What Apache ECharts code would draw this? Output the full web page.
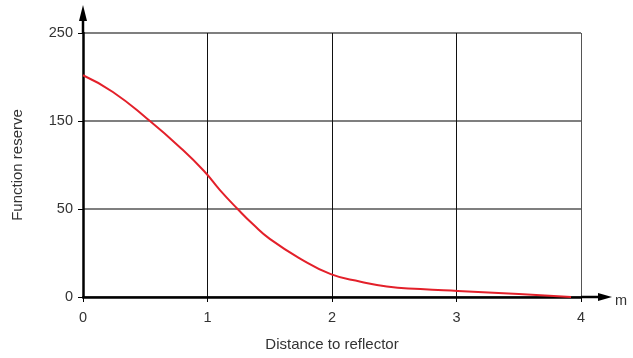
<!DOCTYPE html>
<html>
<head>
<meta charset="utf-8">
<script src="https://cdn.jsdelivr.net/npm/echarts@6/dist/echarts.min.js"></script>
<style>html,body{margin:0;padding:0;background:#fff;}#c{width:633px;height:358px;}</style>
</head>
<body>
<div id="c"></div>
<script>
// Data
const distances = [0, 0.24, 0.52, 0.78, 0.97, 1.10, 1.24, 1.37, 1.50, 1.74, 1.99, 2.23, 2.44, 2.71, 3.01, 3.5, 3.92];
const reserve   = [202, 183, 152, 120, 93.5, 71.5, 50.3, 41, 33, 22, 13, 8.7, 5.9, 4.5, 3.4, 1.7, 0];
const yTickValues = [0, 50, 150, 250];   // equally spaced labels on the reference axis
const xTickLabels = ['0', '1', '2', '3', '4'];

// piecewise-linear scale: tick values sit at equal axis steps
function toAxis(v) {
  for (let i = 0; i < yTickValues.length - 1; i++) {
    const a = yTickValues[i], b = yTickValues[i + 1];
    if (v <= b || i === yTickValues.length - 2) return i + (v - a) / (b - a);
  }
}
const seriesData = distances.map((d, i) => [d, toAxis(reserve[i])]);

const font = 'Liberation Sans, Arial, sans-serif';
const txt = '#333';
const chart = echarts.init(document.getElementById('c'));
chart.setOption({
  animation: false,
  grid: { left: 83, right: 52, top: 33, bottom: 61 },
  xAxis: {
    type: 'value', min: 0, max: 4, interval: 1,
    name: 'Distance to reflector', nameLocation: 'middle', nameGap: 40,
    nameTextStyle: { color: txt, fontSize: 15, fontFamily: font },
    axisLine: { show: true, onZero: false, lineStyle: { color: '#000', width: 2.5 } },
    axisTick: { show: true, length: 5, lineStyle: { color: '#000', width: 1 } },
    axisLabel: { color: txt, fontSize: 14.5, fontFamily: font, margin: 13,
      formatter: v => xTickLabels[Math.round(v)] },
    splitLine: { show: true, lineStyle: { color: ['#111', '#111', '#111', '#111', '#555'], width: 1 } }
  },
  yAxis: {
    type: 'value', min: 0, max: 3, interval: 1,
    name: 'Function reserve', nameLocation: 'middle', nameGap: 58, nameRotate: 90,
    nameTextStyle: { color: txt, fontSize: 15, fontFamily: font },
    axisLine: { show: true, onZero: false, lineStyle: { color: '#000', width: 2.5 } },
    axisTick: { show: true, length: 5, lineStyle: { color: '#000', width: 1 } },
    axisLabel: { color: txt, fontSize: 14.5, fontFamily: font, margin: 10,
      formatter: v => String(yTickValues[Math.round(v)]) },
    splitLine: { show: true, lineStyle: { color: '#555', width: 1.5 } }
  },
  series: [{
    type: 'line', data: seriesData, smooth: 0.5, showSymbol: false,
    lineStyle: { color: '#e3202a', width: 2 }, z: 5
  }]
});

// axis arrows and unit label
const o = chart.convertToPixel({ gridIndex: 0 }, [0, 0]);
const xe = chart.convertToPixel({ gridIndex: 0 }, [4, 3]);
const xTip = xe[0] + 31, yTip = xe[1] - 28;
chart.setOption({
  graphic: [
    { type: 'line', shape: { x1: xe[0], y1: o[1], x2: xTip - 8, y2: o[1] }, style: { stroke: '#000', lineWidth: 2.5 }, z: 10 },
    { type: 'polygon', shape: { points: [[xTip, o[1]], [xTip - 14, o[1] - 4], [xTip - 14, o[1] + 4]] }, style: { fill: '#000' }, z: 10 },
    { type: 'line', shape: { x1: o[0], y1: xe[1], x2: o[0], y2: yTip + 8 }, style: { stroke: '#000', lineWidth: 2.5 }, z: 10 },
    { type: 'polygon', shape: { points: [[o[0], yTip], [o[0] - 4, yTip + 16], [o[0] + 4, yTip + 16]] }, style: { fill: '#000' }, z: 10 },
    { type: 'text', left: xTip + 3, top: o[1] - 4, style: { text: 'm', fill: txt, font: '14.5px ' + font } }
  ]
});
</script>
</body>
</html>
